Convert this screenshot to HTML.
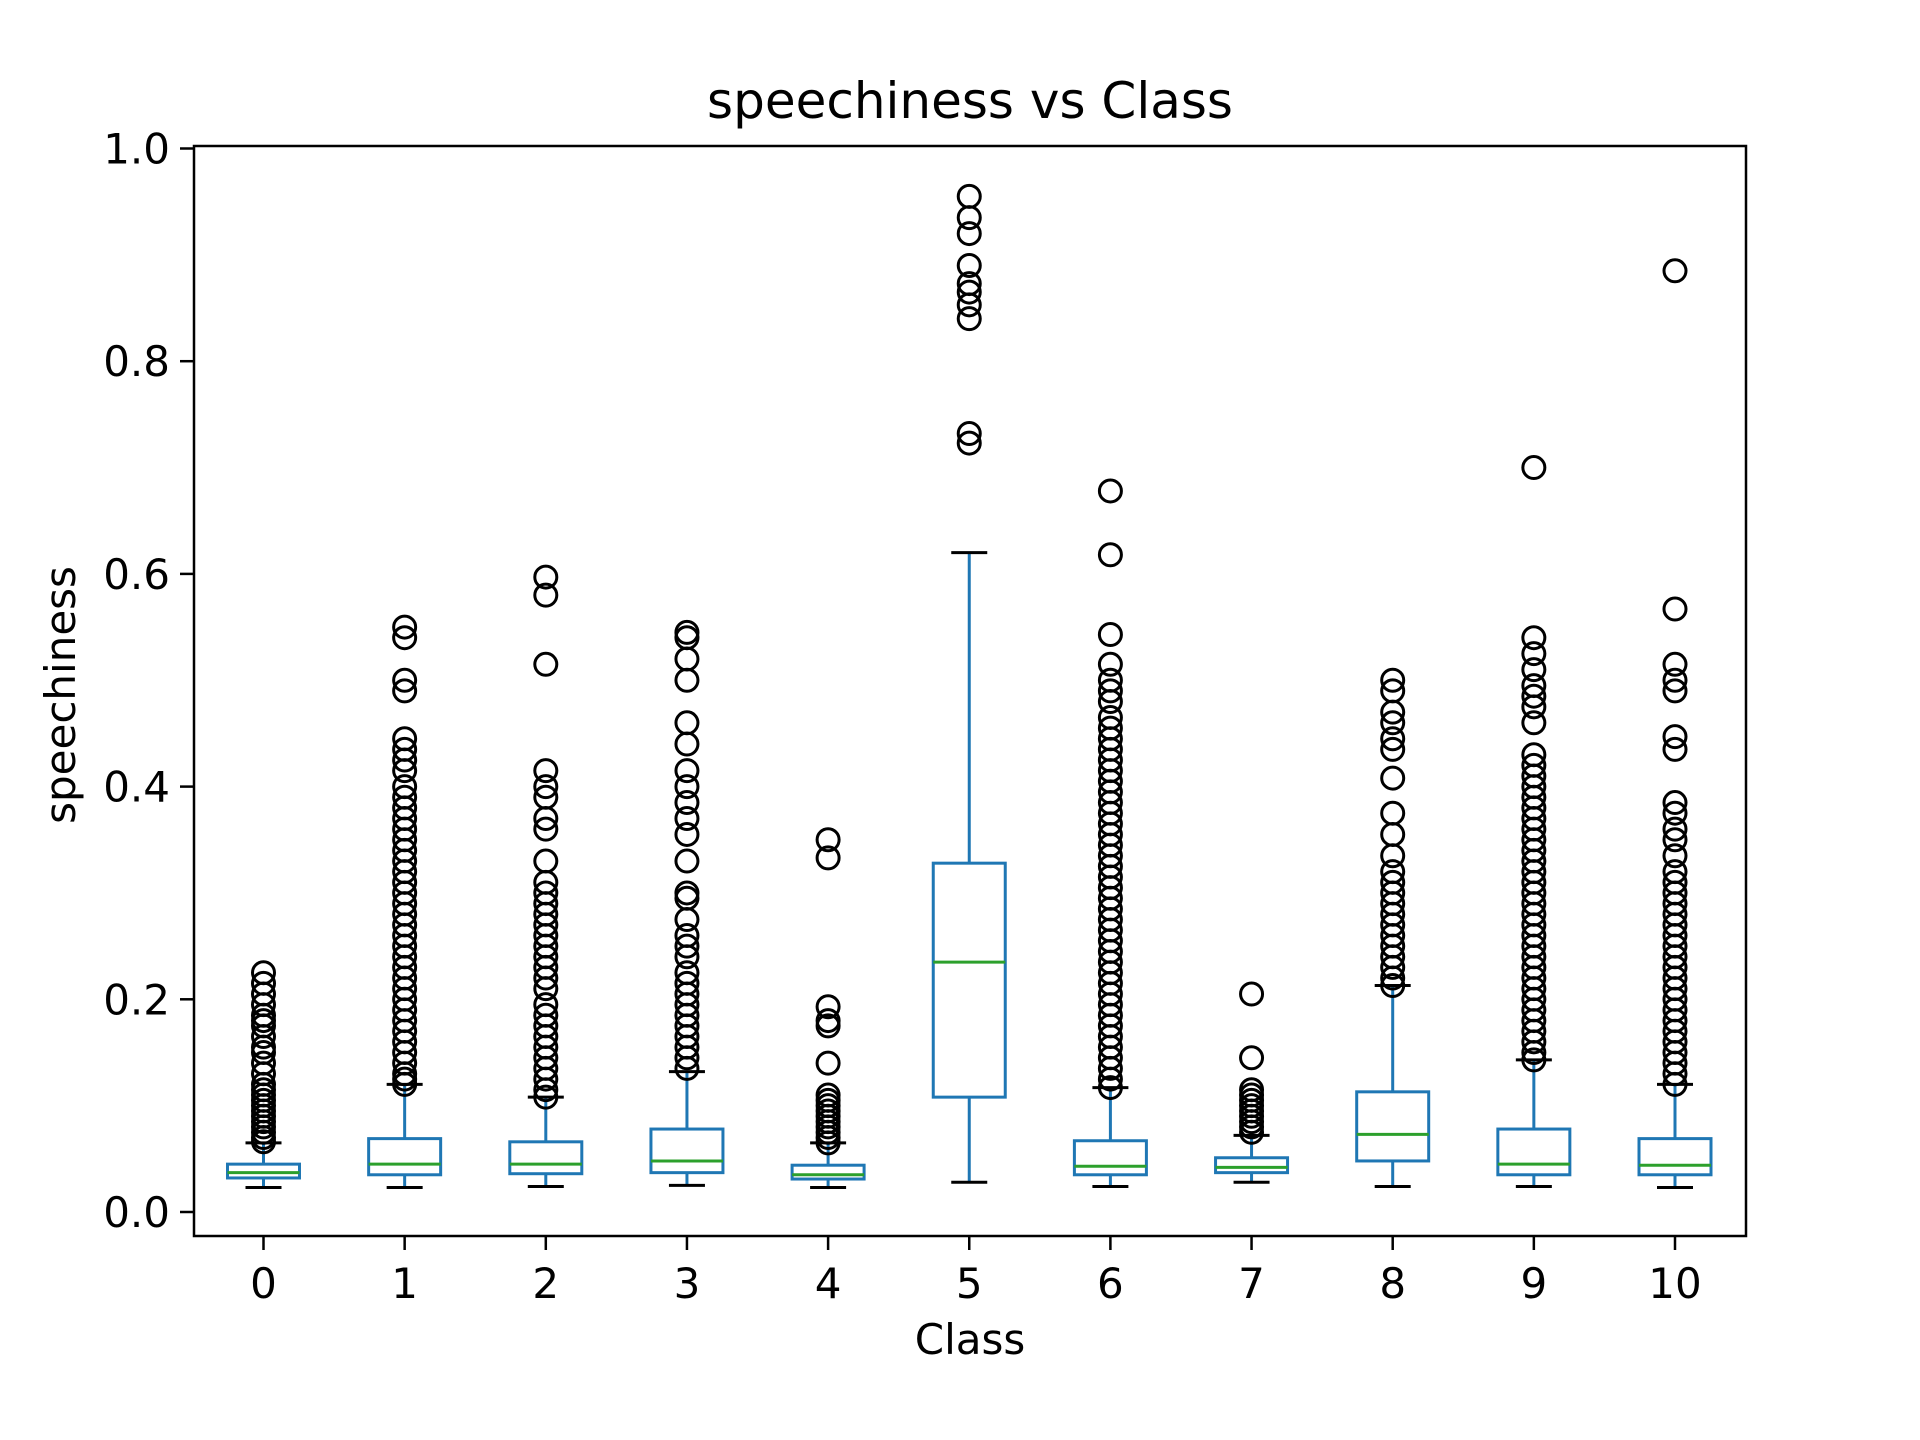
<!DOCTYPE html>
<html><head><meta charset="utf-8"><style>
body{margin:0;background:#fff;}
svg{display:block;font-family:"DejaVu Sans","Liberation Sans",sans-serif;}
</style></head><body>
<svg id="chart" width="1920" height="1440" viewBox="0 0 1920 1440" xmlns="http://www.w3.org/2000/svg">
<rect width="1920" height="1440" fill="#fff"/>
<text x="970" y="118" font-size="50" text-anchor="middle">speechiness vs Class</text>
<text x="970" y="1354" font-size="42" text-anchor="middle">Class</text>
<text x="0" y="0" font-size="42" text-anchor="middle" transform="translate(75,695) rotate(-90)">speechiness</text>
<g id="plot"></g>
<rect x="194" y="146" width="1552" height="1090" fill="none" stroke="#000" stroke-width="2.5"/>
</svg>
<script>
const categories = ["0","1","2","3","4","5","6","7","8","9","10"];
const whiskerLow = [0.023,0.023,0.024,0.025,0.023,0.028,0.024,0.028,0.024,0.024,0.023];
const q1Values = [0.032,0.035,0.036,0.037,0.031,0.108,0.035,0.037,0.048,0.035,0.035];
const medianValues = [0.037,0.045,0.045,0.048,0.035,0.235,0.043,0.042,0.073,0.045,0.044];
const q3Values = [0.045,0.069,0.066,0.078,0.044,0.328,0.067,0.051,0.113,0.078,0.069];
const whiskerHigh = [0.065,0.120,0.108,0.132,0.065,0.620,0.117,0.072,0.213,0.143,0.120];
const outliers = [
 [0.066,0.07,0.075,0.08,0.085,0.09,0.095,0.1,0.105,0.11,0.115,0.12,0.13,0.14,0.15,0.155,0.165,0.175,0.18,0.185,0.195,0.205,0.215,0.225],
 [0.12,0.125,0.13,0.14,0.15,0.16,0.17,0.18,0.19,0.2,0.21,0.22,0.23,0.24,0.25,0.26,0.27,0.28,0.29,0.3,0.31,0.32,0.33,0.34,0.35,0.36,0.37,0.38,0.39,0.4,0.415,0.425,0.435,0.445,0.49,0.5,0.54,0.55],
 [0.108,0.115,0.125,0.135,0.145,0.155,0.165,0.175,0.185,0.195,0.21,0.22,0.23,0.24,0.25,0.26,0.27,0.28,0.29,0.3,0.31,0.33,0.36,0.37,0.39,0.4,0.415,0.515,0.58,0.597],
 [0.135,0.145,0.155,0.165,0.175,0.185,0.195,0.205,0.215,0.225,0.24,0.25,0.26,0.275,0.295,0.3,0.33,0.355,0.37,0.385,0.4,0.415,0.44,0.46,0.5,0.52,0.54,0.545],
 [0.065,0.07,0.075,0.08,0.085,0.09,0.095,0.1,0.105,0.11,0.14,0.175,0.18,0.193,0.333,0.35],
 [0.723,0.732,0.84,0.853,0.865,0.873,0.89,0.92,0.935,0.955],
 [0.117,0.125,0.135,0.145,0.155,0.165,0.175,0.185,0.195,0.205,0.215,0.225,0.235,0.245,0.255,0.265,0.275,0.285,0.295,0.305,0.315,0.325,0.335,0.345,0.355,0.365,0.375,0.385,0.395,0.405,0.415,0.425,0.435,0.445,0.455,0.465,0.48,0.49,0.5,0.515,0.543,0.618,0.678],
 [0.075,0.08,0.085,0.09,0.095,0.1,0.105,0.11,0.115,0.145,0.205],
 [0.213,0.22,0.23,0.24,0.25,0.26,0.27,0.28,0.29,0.3,0.31,0.32,0.335,0.355,0.375,0.408,0.435,0.445,0.46,0.47,0.49,0.5],
 [0.143,0.15,0.16,0.17,0.18,0.19,0.2,0.21,0.22,0.23,0.24,0.25,0.26,0.27,0.28,0.29,0.3,0.31,0.32,0.33,0.34,0.35,0.36,0.37,0.38,0.39,0.4,0.41,0.42,0.43,0.46,0.475,0.485,0.495,0.51,0.525,0.54,0.7],
 [0.12,0.13,0.14,0.15,0.16,0.17,0.18,0.19,0.2,0.21,0.22,0.23,0.24,0.25,0.26,0.27,0.28,0.29,0.3,0.31,0.32,0.335,0.35,0.36,0.375,0.385,0.435,0.447,0.49,0.5,0.515,0.567,0.885]
];
const yTicks = [0,0.2,0.4,0.6,0.8,1.0];
const yTickLabels = ["0.0","0.2","0.4","0.6","0.8","1.0"];

const NS="http://www.w3.org/2000/svg";
const g=document.getElementById('plot');
function yScale(v){return 1212 - v*1063.5;}
function xScale(i){return 263.5 + i*141.15;}
function mk(tag,attrs){const e=document.createElementNS(NS,tag);for(const k in attrs)e.setAttribute(k,attrs[k]);g.appendChild(e);return e;}
const blue="#1f77b4", green="#2ca02c";
yTicks.forEach((t,i)=>{
  const y=yScale(t);
  const tk=mk('line',{x1:180,x2:194,y1:y,y2:y,stroke:'#000','stroke-width':2.5});
  
  
  const tx=mk('text',{x:170,y:y+15,'font-size':42,'text-anchor':'end'});
  tx.textContent=yTickLabels[i];
  
  
});
categories.forEach((c,i)=>{
  const x=xScale(i), hw=36, cw=18;
  const tk=mk('line',{x1:x,x2:x,y1:1236,y2:1250,stroke:'#000','stroke-width':2.5});
  
  
  const tx=mk('text',{x:x,y:1298,'font-size':42,'text-anchor':'middle'});
  tx.textContent=c;
  
  
  const w1=mk('line',{x1:x,x2:x,y1:yScale(whiskerLow[i]),y2:yScale(q1Values[i]),stroke:blue,'stroke-width':3});
  
  
  const w2=mk('line',{x1:x,x2:x,y1:yScale(q3Values[i]),y2:yScale(whiskerHigh[i]),stroke:blue,'stroke-width':3});
  
  
  [whiskerLow[i],whiskerHigh[i]].forEach(v=>{
    const cap=mk('line',{x1:x-cw,x2:x+cw,y1:yScale(v),y2:yScale(v),stroke:'#000','stroke-width':3});
    
    
  });
  const b=mk('rect',{x:x-hw,y:yScale(q3Values[i]),width:2*hw,height:yScale(q1Values[i])-yScale(q3Values[i]),fill:'none',stroke:blue,'stroke-width':3});
  
  
  const m=mk('line',{x1:x-hw,x2:x+hw,y1:yScale(medianValues[i]),y2:yScale(medianValues[i]),stroke:green,'stroke-width':3});
  
  
  outliers[i].forEach(v=>{
    const o=mk('circle',{cx:x,cy:yScale(v),r:11,fill:'none',stroke:'#000','stroke-width':3});
    
    
  });
});
</script>
</body></html>
